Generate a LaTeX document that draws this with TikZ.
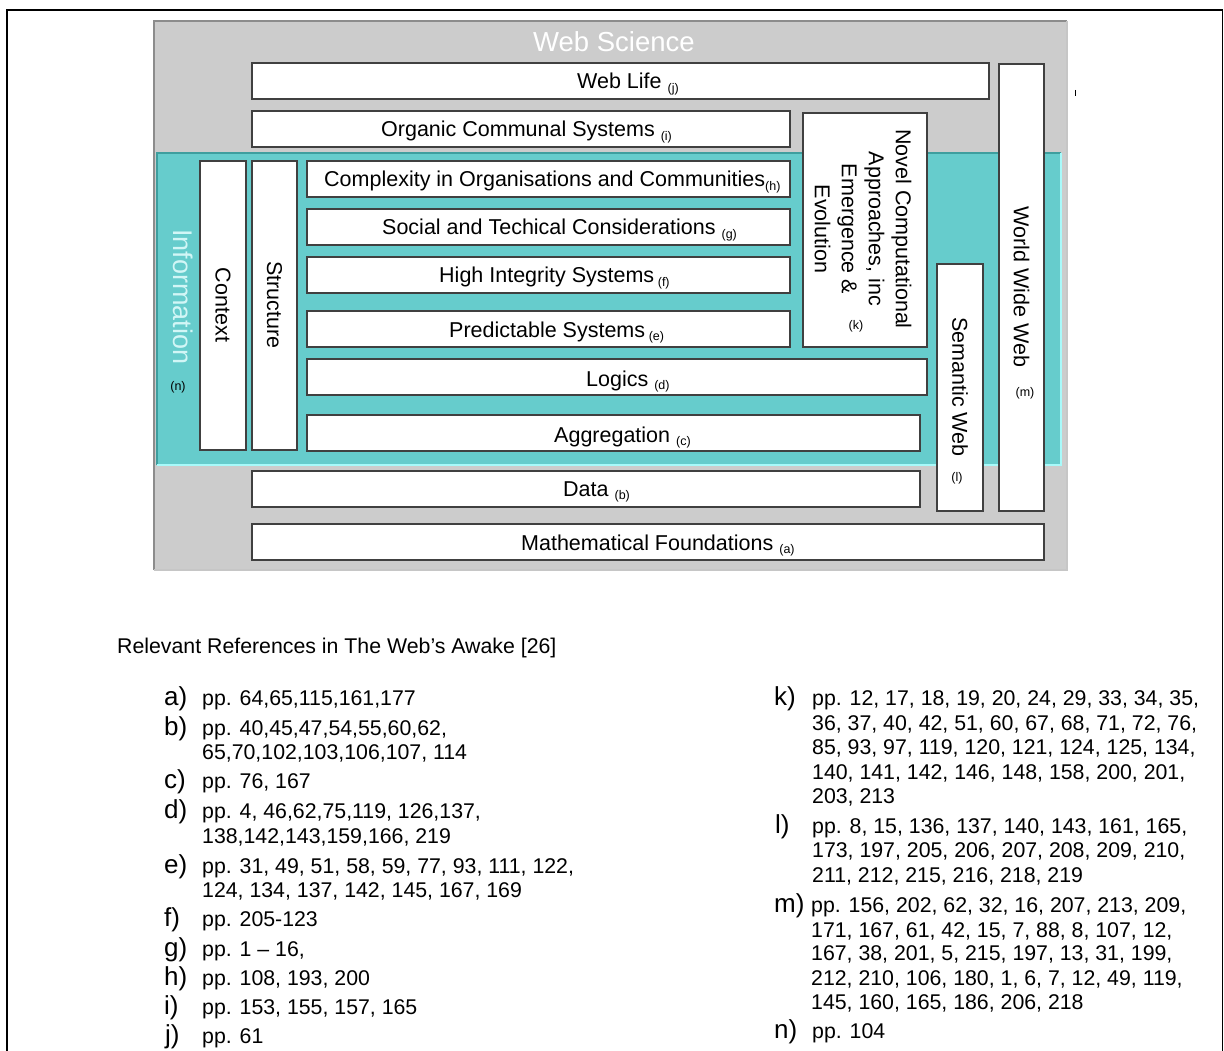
\documentclass[tikz,border=0pt]{standalone}
\usepackage{fontspec}
\setmainfont{Liberation Sans}
\definecolor{panelgray}{HTML}{CCCCCC}
\definecolor{panelrim}{HTML}{8C8C8C}
\definecolor{tealfill}{HTML}{66CCCC}
\definecolor{tealdark}{HTML}{3E9E9E}
\definecolor{tealglow}{HTML}{A8FAFA}
\definecolor{boxline}{HTML}{404040}
\definecolor{infotext}{HTML}{D2F6F6}
\newcommand\subl[1]{\raisebox{-3.5pt}{\fontsize{12.5}{14}\selectfont(#1)}}
\newcommand\boxat[5]{\node[wbox, minimum width={#4-#2}, minimum height={#5-#3}] (#1) at ({(#2+#4)/2},{(#3+#5)/2}) {};}
\begin{document}
\begin{tikzpicture}[x=1pt,y=-1pt,
  wbox/.style={draw=boxline, fill=white, line width=1.3pt, inner sep=0pt, outer sep=0pt},
  blabel/.style={anchor=base west, inner sep=0pt, font=\fontsize{21.5}{26}\selectfont},
  vlabel/.style={rotate=-90, inner sep=0pt, font=\fontsize{21.5}{27}\selectfont},
  tiny/.style={inner sep=0pt, font=\fontsize{12.5}{14}\selectfont},
  itemtxt/.style={anchor=base west, inner sep=0pt, font=\fontsize{21.3}{25}\selectfont},
  itemlbl/.style={anchor=base west, inner sep=0pt, font=\fontsize{26}{30}\selectfont}]
\useasboundingbox (0,0) rectangle (1224,1051);
% page frame
\draw[line width=2pt] (7,1051) -- (7,10) -- (1223,10);
\draw[line width=1pt] (1222.5,10) -- (1222.5,1051);
% grey panel
\fill[panelgray] (154,21) rectangle (1067,570);
\draw[panelrim, line width=1.5pt] (154,570) -- (154,21) -- (1067,21);
\draw[gray!45, line width=1.5pt] (1067,21) -- (1067,570) -- (154,570);
% teal panel
\fill[tealfill] (157,153) rectangle (1061,465);
\draw[tealdark, line width=1.5pt] (157,465) -- (157,153) -- (1061,153);
\draw[tealglow, line width=2.5pt] (1061,153) -- (1061,465) -- (157,465);
% titles
\node[anchor=base, inner sep=0pt, text=white, font=\fontsize{27.5}{32}\selectfont] (title) at (614,52) {Web Science};
\node[rotate=-90, inner sep=0pt, text=infotext, font=\fontsize{27}{32}\selectfont] (info) at (183,297) {Information};
\node[tiny] (infon) at (178,387) {(n)};
% boxes
\boxat{weblife}{252}{63}{989}{99}
\boxat{organic}{252}{111}{790}{147}
\boxat{context}{200}{161}{246}{450}
\boxat{structure}{252}{161}{297}{450}
\boxat{complexity}{307}{161}{790}{197}
\boxat{social}{307}{209}{790}{245}
\boxat{high}{307}{257}{790}{293}
\boxat{predict}{307}{311}{790}{347}
\boxat{logics}{307}{359}{927}{395}
\boxat{aggreg}{307}{415}{920}{451}
\boxat{data}{252}{471}{920}{507}
\boxat{math}{252}{524}{1044}{560}
\boxat{novel}{803}{113}{927}{347}
\boxat{semantic}{937}{264}{983}{511}
\boxat{www}{999}{64}{1044}{511}
% box labels
\node[blabel] (tweblife) at (577,89) {Web Life \subl{j}};
\node[blabel] (torganic) at (381,137) {Organic Communal Systems \subl{i}};
\node[blabel] (tcomplexity) at (324,187) {Complexity in Organisations and Communities\subl{h}};
\node[blabel] (tsocial) at (382,235) {Social and Techical Considerations \subl{g}};
\node[blabel] (thigh) at (439,283) {High Integrity Systems\,\subl{f}};
\node[blabel] (tpredict) at (449,337) {Predictable Systems\,\subl{e}};
\node[blabel] (tlogics) at (586,386) {Logics \subl{d}};
\node[blabel] (taggreg) at (554,442) {Aggregation \subl{c}};
\node[blabel] (tdata) at (563,496) {Data \subl{b}};
\node[blabel] (tmath) at (521,550) {Mathematical Foundations \subl{a}};
\node[vlabel] (tcontext) at (223,305) {Context};
\node[vlabel] (tstructure) at (274.5,305) {Structure};
\node[vlabel, align=center] (tnovel) at (863,229) {Novel Computational\\Approaches, inc\\Emergence \&\\Evolution};
\node[tiny] (tnovelk) at (856,326) {(k)};
\node[vlabel] (tsemantic) at (960,387) {Semantic Web};
\node[tiny] (tsemanticl) at (957,478) {(l)};
\node[vlabel] (twww) at (1021.5,287) {World Wide Web};
\node[tiny] (twwwm) at (1025,393) {(m)};
\draw[line width=1pt] (1075,90) -- (1075,96);
% references
\node[itemtxt] (head) at (117,653) {Relevant References in The Web’s Awake [26]};
\node[itemlbl] (la) at (164,705) {a)};
\node[itemtxt] (ra1) at (202,705) {pp. 64,65,115,161,177};
\node[itemlbl] (lb) at (164,735) {b)};
\node[itemtxt] (rb1) at (202,735) {pp. 40,45,47,54,55,60,62,};
\node[itemtxt] (rb2) at (202,759) {65,70,102,103,106,107, 114};
\node[itemlbl] (lc) at (164,788) {c)};
\node[itemtxt] (rc1) at (202,788) {pp. 76, 167};
\node[itemlbl] (ld) at (164,818) {d)};
\node[itemtxt] (rd1) at (202,818) {pp. 4, 46,62,75,119, 126,137,};
\node[itemtxt] (rd2) at (202,843) {138,142,143,159,166, 219};
\node[itemlbl] (le) at (164,873) {e)};
\node[itemtxt] (re1) at (202,873) {pp. 31, 49, 51, 58, 59, 77, 93, 111, 122,};
\node[itemtxt] (re2) at (202,897) {124, 134, 137, 142, 145, 167, 169};
\node[itemlbl] (lf) at (164,926) {f)};
\node[itemtxt] (rf1) at (202,926) {pp. 205-123};
\node[itemlbl] (lg) at (164,956) {g)};
\node[itemtxt] (rg1) at (202,956) {pp. 1 – 16,};
\node[itemlbl] (lh) at (164,985) {h)};
\node[itemtxt] (rh1) at (202,985) {pp. 108, 193, 200};
\node[itemlbl] (li) at (164,1014) {i)};
\node[itemtxt] (ri1) at (202,1014) {pp. 153, 155, 157, 165};
\node[itemlbl] (lj) at (165,1043) {j)};
\node[itemtxt] (rj1) at (202,1043) {pp. 61};
\node[itemlbl] (lk) at (774,705) {k)};
\node[itemtxt] (rk1) at (812,705) {pp. 12, 17, 18, 19, 20, 24, 29, 33, 34, 35,};
\node[itemtxt] (rk2) at (812,730) {36, 37, 40, 42, 51, 60, 67, 68, 71, 72, 76,};
\node[itemtxt] (rk3) at (812,754) {85, 93, 97, 119, 120, 121, 124, 125, 134,};
\node[itemtxt] (rk4) at (812,779) {140, 141, 142, 146, 148, 158, 200, 201,};
\node[itemtxt] (rk5) at (812,803) {203, 213};
\node[itemlbl] (ll) at (775,833) {l)};
\node[itemtxt] (rl1) at (812,833) {pp. 8, 15, 136, 137, 140, 143, 161, 165,};
\node[itemtxt] (rl2) at (812,857) {173, 197, 205, 206, 207, 208, 209, 210,};
\node[itemtxt] (rl3) at (812,882) {211, 212, 215, 216, 218, 219};
\node[itemlbl] (lm) at (774,912) {m)};
\node[itemtxt] (rm1) at (811,912) {pp. 156, 202, 62, 32, 16, 207, 213, 209,};
\node[itemtxt] (rm2) at (811,937) {171, 167, 61, 42, 15, 7, 88, 8, 107, 12,};
\node[itemtxt] (rm3) at (811,960) {167, 38, 201, 5, 215, 197, 13, 31, 199,};
\node[itemtxt] (rm4) at (811,985) {212, 210, 106, 180, 1, 6, 7, 12, 49, 119,};
\node[itemtxt] (rm5) at (811,1009) {145, 160, 165, 186, 206, 218};
\node[itemlbl] (ln) at (774,1038) {n)};
\node[itemtxt] (rn1) at (812,1038) {pp. 104};
\end{tikzpicture}
\end{document}
